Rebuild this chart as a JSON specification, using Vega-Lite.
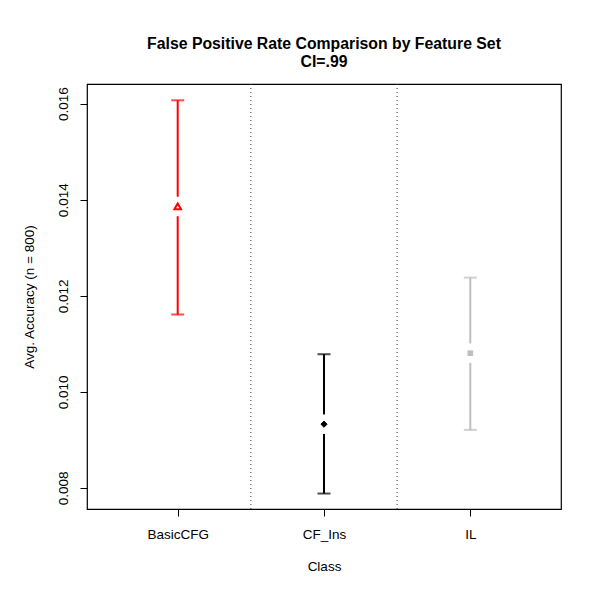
{
  "$schema": "https://vega.github.io/schema/vega-lite/v6.json",
  "width": 474,
  "height": 425,
  "autosize": {"type": "none"},
  "padding": {"left": 87, "top": 84, "right": 33, "bottom": 91},
  "background": "white",
  "config": {
    "font": "Liberation Sans",
    "view": {"stroke": "black", "strokeWidth": 1.2},
    "axis": {"grid": false, "domain": false, "tickColor": "black", "labelColor": "black", "titleColor": "black", "labelFont": "Liberation Sans", "titleFont": "Liberation Sans", "labelFontSize": 13.5, "titleFontSize": 13.5, "titleFontWeight": "normal", "tickSize": 7, "tickWidth": 1}
  },
  "title": {
    "text": ["False Positive Rate Comparison by Feature Set", "CI=.99"],
    "fontSize": 15.8,
    "fontWeight": "bold",
    "font": "Liberation Sans",
    "color": "black",
    "anchor": "middle",
    "lineHeight": 18,
    "offset": 13
  },
  "datasets": {
    "ci": [
      {"idx": 1, "cls": "BasicCFG", "mean": 0.01386, "lo": 0.01161, "hi": 0.01607},
      {"idx": 2, "cls": "CF_Ins", "mean": 0.009326, "lo": 0.007882, "hi": 0.010783},
      {"idx": 3, "cls": "IL", "mean": 0.010804, "lo": 0.009208, "hi": 0.012378}
    ],
    "sep": [{"pos": 1.5}, {"pos": 2.5}]
  },
  "layer": [
    {
      "data": {"name": "sep"},
      "mark": {"type": "rule", "strokeDash": [1, 3], "strokeWidth": 1, "color": "#444444"},
      "encoding": {
        "x": {"field": "pos", "type": "quantitative", "scale": {"domain": [0.38, 3.62], "nice": false, "zero": false}}
      }
    },
    {
      "data": {"name": "ci"},
      "mark": {"type": "rule", "strokeWidth": 2},
      "encoding": {
        "x": {"field": "idx", "type": "quantitative", "scale": {"domain": [0.38, 3.62], "nice": false, "zero": false},
          "axis": {"values": [1, 2, 3], "labelExpr": "datum.value == 1 ? 'BasicCFG' : datum.value == 2 ? 'CF_Ins' : 'IL'", "title": "Class", "labelPadding": 11, "titlePadding": 19, "labelFlush": false}},
        "y": {"field": "lo", "type": "quantitative", "scale": {"domain": [0.00756, 0.01641], "nice": false, "zero": false},
          "axis": {"values": [0.008, 0.01, 0.012, 0.014, 0.016], "format": ".3f", "labelAngle": -90, "labelAlign": "center", "labelBaseline": "bottom", "labelPadding": 10, "title": "Avg. Accuracy (n = 800)", "titlePadding": 20, "labelFlush": false}},
        "y2": {"field": "hi"},
        "color": {"field": "cls", "type": "nominal", "scale": {"domain": ["BasicCFG", "CF_Ins", "IL"], "range": ["#ff0000", "#000000", "#bebebe"]}, "legend": null}
      }
    },
    {
      "data": {"name": "ci"},
      "mark": {"type": "point", "shape": "square", "filled": true, "color": "white", "size": 380, "opacity": 1},
      "encoding": {
        "x": {"field": "idx", "type": "quantitative"},
        "y": {"field": "mean", "type": "quantitative"}
      }
    },
    {
      "data": {"name": "ci"},
      "mark": {"type": "tick", "orient": "horizontal", "size": 13, "thickness": 2},
      "encoding": {
        "x": {"field": "idx", "type": "quantitative"},
        "y": {"field": "lo", "type": "quantitative"},
        "color": {"field": "cls", "type": "nominal", "legend": null}
      }
    },
    {
      "data": {"name": "ci"},
      "mark": {"type": "tick", "orient": "horizontal", "size": 13, "thickness": 2},
      "encoding": {
        "x": {"field": "idx", "type": "quantitative"},
        "y": {"field": "hi", "type": "quantitative"},
        "color": {"field": "cls", "type": "nominal", "legend": null}
      }
    },
    {
      "data": {"name": "ci"},
      "mark": {"type": "point", "filled": true, "opacity": 1},
      "encoding": {
        "x": {"field": "idx", "type": "quantitative"},
        "y": {"field": "mean", "type": "quantitative"},
        "shape": {"field": "cls", "type": "nominal", "scale": {"domain": ["BasicCFG", "CF_Ins", "IL"], "range": ["triangle-up", "diamond", "square"]}, "legend": null},
        "fill": {"field": "cls", "type": "nominal", "scale": {"domain": ["BasicCFG", "CF_Ins", "IL"], "range": ["#ffffff", "#000000", "#bebebe"]}, "legend": null},
        "stroke": {"field": "cls", "type": "nominal", "scale": {"domain": ["BasicCFG", "CF_Ins", "IL"], "range": ["#ff0000", "#000000", "#bebebe"]}, "legend": null},
        "strokeWidth": {"field": "cls", "type": "nominal", "scale": {"domain": ["BasicCFG", "CF_Ins", "IL"], "range": [2, 0, 0]}, "legend": null},
        "size": {"field": "cls", "type": "nominal", "scale": {"domain": ["BasicCFG", "CF_Ins", "IL"], "range": [45, 32, 49]}, "legend": null}
      }
    }
  ]
}
